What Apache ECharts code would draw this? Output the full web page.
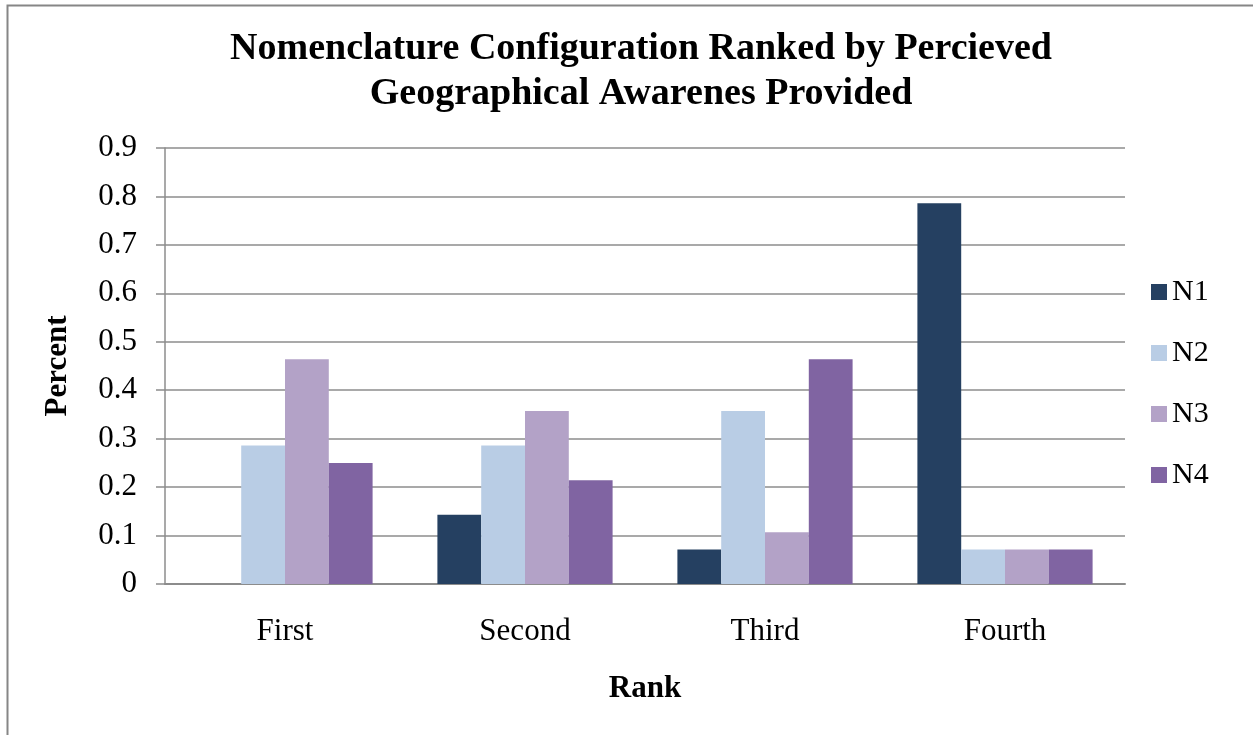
<!DOCTYPE html>
<html>
<head>
<meta charset="utf-8">
<script src="https://cdn.jsdelivr.net/npm/echarts@6/dist/echarts.min.js"></script>
<style>
  html, body { margin: 0; padding: 0; background: #fff; }
  #chart { width: 1253px; height: 735px; }
</style>
</head>
<body>
<div id="chart"></div>
<script>
const categories = ['First', 'Second', 'Third', 'Fourth']
const seriesNames = ['N1', 'N2', 'N3', 'N4']
const n1 = [0, 0.143, 0.071, 0.786]
const n2 = [0.286, 0.286, 0.357, 0.071]
const n3 = [0.464, 0.357, 0.107, 0.071]
const n4 = [0.25, 0.214, 0.464, 0.071]
const colors = ['#254061', '#b9cde5', '#b3a2c7', '#8064a2']

const font = '"Liberation Serif", "Times New Roman", serif'
const values = [n1, n2, n3, n4]

const chart = echarts.init(document.getElementById('chart'))
const option = {
  animation: false,
  backgroundColor: '#fff',
  title: {
    text: 'Nomenclature Configuration Ranked by Percieved\nGeographical Awarenes Provided',
    left: 636,
    textAlign: 'center',
    top: 22,
    textStyle: {
      fontFamily: font,
      fontSize: 38,
      fontWeight: 'bold',
      color: '#000',
      lineHeight: 45
    }
  },
  graphic: [
    {
      type: 'rect',
      shape: { x: 7.5, y: 5.5, width: 1260, height: 740 },
      style: { fill: 'none', stroke: '#868686', lineWidth: 2 },
      silent: true
    }
  ],
  legend: {
    orient: 'vertical',
    left: 1146,
    top: 272,
    itemWidth: 16,
    itemHeight: 16,
    itemGap: 31,
    icon: 'rect',
    data: seriesNames,
    textStyle: { fontFamily: font, fontSize: 30, color: '#000' }
  },
  grid: {
    left: 165,
    right: 128,
    top: 148,
    bottom: 151,
    containLabel: false
  },
  xAxis: {
    type: 'category',
    data: categories,
    name: 'Rank',
    nameLocation: 'middle',
    nameGap: 89,
    nameTextStyle: { fontFamily: font, fontSize: 31, fontWeight: 'bold', color: '#000' },
    axisLine: { lineStyle: { color: '#8c8c8c', width: 2 } },
    axisTick: { show: false },
    axisLabel: { fontFamily: font, fontSize: 31, color: '#000', margin: 32 }
  },
  yAxis: {
    type: 'value',
    min: 0,
    max: 0.9,
    interval: 0.1,
    name: 'Percent',
    nameLocation: 'middle',
    nameRotate: 90,
    nameGap: 92,
    nameTextStyle: { fontFamily: font, fontSize: 31, fontWeight: 'bold', color: '#000' },
    axisLine: { show: true, lineStyle: { color: '#8c8c8c', width: 1.5 } },
    axisTick: { show: true, length: 9, lineStyle: { color: '#8c8c8c', width: 1.5 } },
    splitLine: { lineStyle: { color: '#8c8c8c', width: 1.5 } },
    axisLabel: {
      fontFamily: font,
      fontSize: 31,
      color: '#000',
      margin: 28,
      formatter: v => String(Math.round(v * 10) / 10)
    }
  },
  series: seriesNames.map((name, i) => ({
    name: name,
    type: 'bar',
    data: values[i],
    barGap: '0%',
    barCategoryGap: '27%',
    itemStyle: { color: colors[i] }
  }))
}
chart.setOption(option)
</script>
</body>
</html>
